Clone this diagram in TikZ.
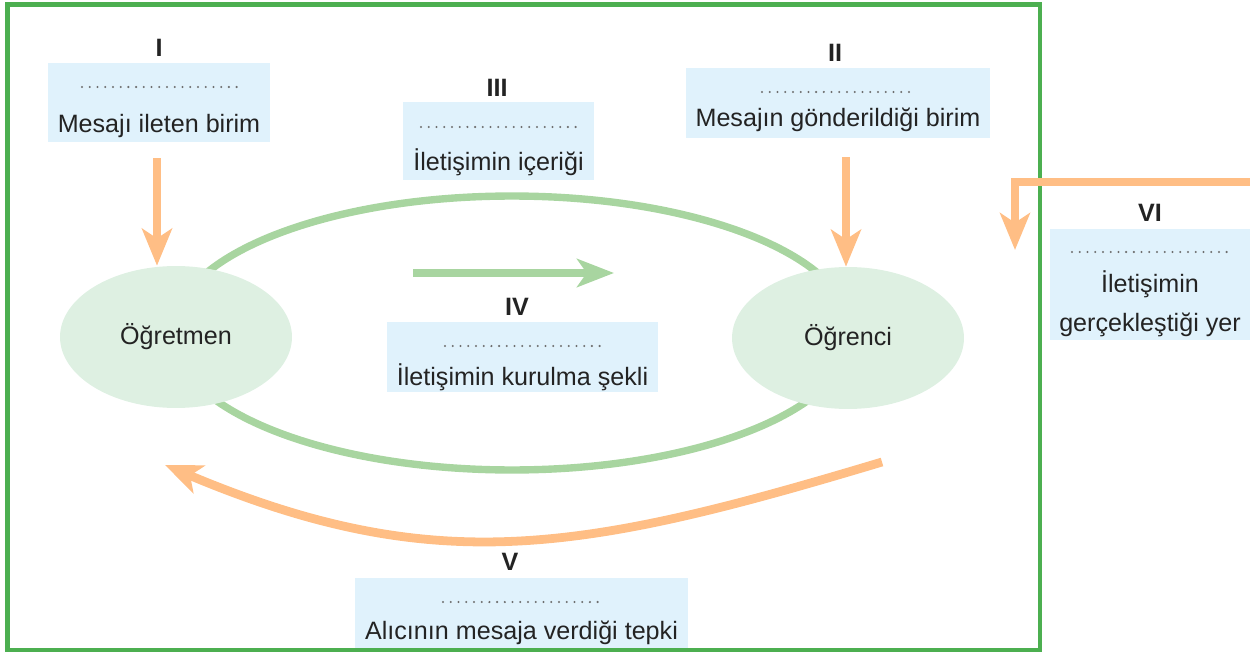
\documentclass[tikz,border=0pt]{standalone}
\usepackage{fontspec}
\setmainfont{Liberation Sans}
\usetikzlibrary{arrows.meta,shapes.geometric,calc}
\definecolor{frame}{RGB}{76,175,80}
\definecolor{loopgreen}{RGB}{168,213,160}
\definecolor{ellfill}{RGB}{222,240,226}
\definecolor{boxfill}{RGB}{224,242,252}
\definecolor{orng}{RGB}{255,190,133}
\definecolor{txtc}{RGB}{35,35,35}
\definecolor{dotc}{RGB}{110,110,110}
\tikzset{
  box/.style={rectangle,fill=boxfill,inner sep=0pt},
  ell/.style={ellipse,fill=ellfill,inner sep=0pt,minimum width=4.64cm,minimum height=2.84cm,
    font=\fontsize{14.3pt}{17pt}\selectfont,text=txtc},
  txt/.style={font=\fontsize{14.3pt}{22pt}\selectfont,text=txtc,inner sep=0pt,align=center},
  lbl/.style={font=\fontsize{14.3pt}{17pt}\selectfont\bfseries,text=txtc,inner sep=0pt},
  dots/.style={draw=dotc,line width=1.3pt,line cap=round,dash pattern=on 0pt off 4.4pt},
  oarrow/.style={draw=orng,line width=5pt,-{Stealth[length=21pt,width=17pt,inset=5.5pt]}},
  garrow/.style={draw=loopgreen,line width=4.8pt,-{Stealth[length=21pt,width=16pt,inset=5.5pt]}},
}
\begin{document}
\begin{tikzpicture}[x=0.02cm,y=-0.02cm]
\useasboundingbox (0,0) rectangle (1250,655);
% big loop
\node[draw=loopgreen,line width=4.2pt,ellipse,minimum width=13.6cm,minimum height=5.48cm,inner sep=0pt] (loop) at (512,333) {};
% actors
\node[ell] (ogretmen) at (176,337) {Öğretmen};
\node[ell] (ogrenci) at (848,338) {Öğrenci};
% boxes
\node[box,minimum width=4.44cm,minimum height=1.58cm] (b1) at (159,102.5) {};
\node[lbl] (l1) at (159,48) {I};
\draw[dots] (82,87) -- (237,87);
\node[txt] (t1) at (159,126) {Mesajı ileten birim};

\node[box,minimum width=6.08cm,minimum height=1.40cm] (b2) at (838,103) {};
\node[lbl] (l2) at (835,53) {II};
\draw[dots] (762,92) -- (915,92);
\node[txt] (t2) at (838,120) {Mesajın gönderildiği birim};

\node[box,minimum width=3.82cm,minimum height=1.56cm] (b3) at (498.5,141) {};
\node[lbl] (l3) at (497,88) {III};
\draw[dots] (421,127) -- (577,127);
\node[txt] (t3) at (498.5,162) {İletişimin içeriği};

\node[box,minimum width=5.42cm,minimum height=1.40cm] (b4) at (522.5,357) {};
\node[lbl] (l4) at (517,307) {IV};
\draw[dots] (445,346) -- (600,346);
\node[txt] (t4) at (522.5,377) {İletişimin kurulma şekli};

\node[box,minimum width=6.66cm,minimum height=1.46cm] (b5) at (521.5,614.5) {};
\node[lbl] (l5) at (510,562) {V};
\draw[dots] (443,602) -- (600,602);
\node[txt] (t5) at (521.5,633) {Alıcının mesaja verdiği tepki};

\node[box,minimum width=4.0cm,minimum height=2.22cm] (b6) at (1150,284.5) {};
\node[lbl] (l6) at (1150,213) {VI};
\draw[dots] (1072,252) -- (1228,252);
\node[txt] (t6) at (1150,304) {İletişimin\\gerçekleştiği yer};

% frame
\draw[frame,line width=2.3pt] (7.5,4.5) rectangle (1040,650);

% arrows
\draw[oarrow] ($(b1.south)+(-2,16)$) -- ($(b1.south |- ogretmen.north)+(-2,0)$);
\draw[oarrow] ($(b2.south -| ogrenci.north)+(-2,19)$) -- ($(ogrenci.north)+(-2,0)$);
\coordinate (vistart) at (1252,182);
\coordinate (viend) at (1015,250);
\draw[oarrow] (vistart) -| (viend);
\coordinate (vstart) at (882,462);
\coordinate (vend) at (165,465);
\draw[oarrow] (vstart) .. controls (582,552) and (436,579) .. (vend);
\coordinate (gstart) at (413,273);
\coordinate (gend) at (614,273);
\draw[garrow] (gstart) -- (gend);
\end{tikzpicture}
\end{document}
